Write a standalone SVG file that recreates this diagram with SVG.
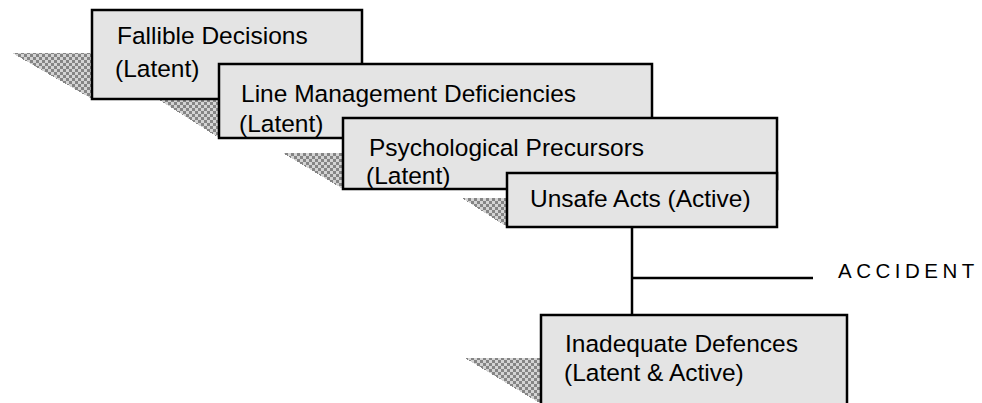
<svg xmlns="http://www.w3.org/2000/svg" width="982" height="403" viewBox="0 0 982 403">
  <defs>
    <pattern id="checker" patternUnits="userSpaceOnUse" width="6" height="6">
      <rect x="0" y="0" width="6" height="6" fill="#d4d4d4"/>
      <rect x="0" y="0" width="3" height="3" fill="#858585"/>
      <rect x="3" y="3" width="3" height="3" fill="#858585"/>
    </pattern>
  </defs>
  <style>
    .box { fill: #e4e4e4; stroke: #000; stroke-width: 2.5; }
    .shadow { fill: url(#checker); shape-rendering: crispEdges; }
    .lbl { font-family: "Liberation Sans", Arial, sans-serif; font-size: 24.5px; fill: #000; }
    .acc { font-family: "Liberation Sans", Arial, sans-serif; font-size: 20.5px; letter-spacing: 4.5px; fill: #000; }
    .conn { stroke: #000; stroke-width: 2.5; fill: none; }
  </style>
  <g id="shadows">
    <polygon class="shadow" points="12,53 92,53 92,99"/>
    <polygon class="shadow" points="139,87 219,87 219,138"/>
    <polygon class="shadow" points="283,153 343,153 343,189"/>
    <polygon class="shadow" points="462,198 507,198 507,227"/>
    <polygon class="shadow" points="465,358 541,358 541,404"/>
  </g>
  <g id="node-fallible">
    <rect class="box" x="92" y="10" width="270" height="89"/>
    <text class="lbl" x="117" y="44">Fallible Decisions</text>
    <text class="lbl" x="115" y="77">(Latent)</text>
  </g>
  <g id="node-line">
    <rect class="box" x="219" y="64" width="433" height="74"/>
    <text class="lbl" x="241" y="102">Line Management Deficiencies</text>
    <text class="lbl" x="239" y="132">(Latent)</text>
  </g>
  <g id="node-psych">
    <rect class="box" x="343" y="118" width="434" height="71"/>
    <text class="lbl" x="369" y="156">Psychological Precursors</text>
    <text class="lbl" x="366" y="184">(Latent)</text>
  </g>
  <g id="node-unsafe">
    <rect class="box" x="507" y="173" width="270" height="54"/>
    <text class="lbl" x="530" y="207">Unsafe Acts (Active)</text>
  </g>
  <g id="node-defences">
    <rect class="box" x="541" y="315" width="306" height="100"/>
    <text class="lbl" x="565" y="352">Inadequate Defences</text>
    <text class="lbl" x="564" y="381">(Latent &amp; Active)</text>
  </g>
  <g id="connectors">
    <line class="conn" x1="632" y1="227" x2="632" y2="315"/>
    <line class="conn" x1="632" y1="278" x2="813" y2="278"/>
  </g>
  <g id="label-accident">
    <text class="acc" x="838" y="278">ACCIDENT</text>
  </g>
</svg>
